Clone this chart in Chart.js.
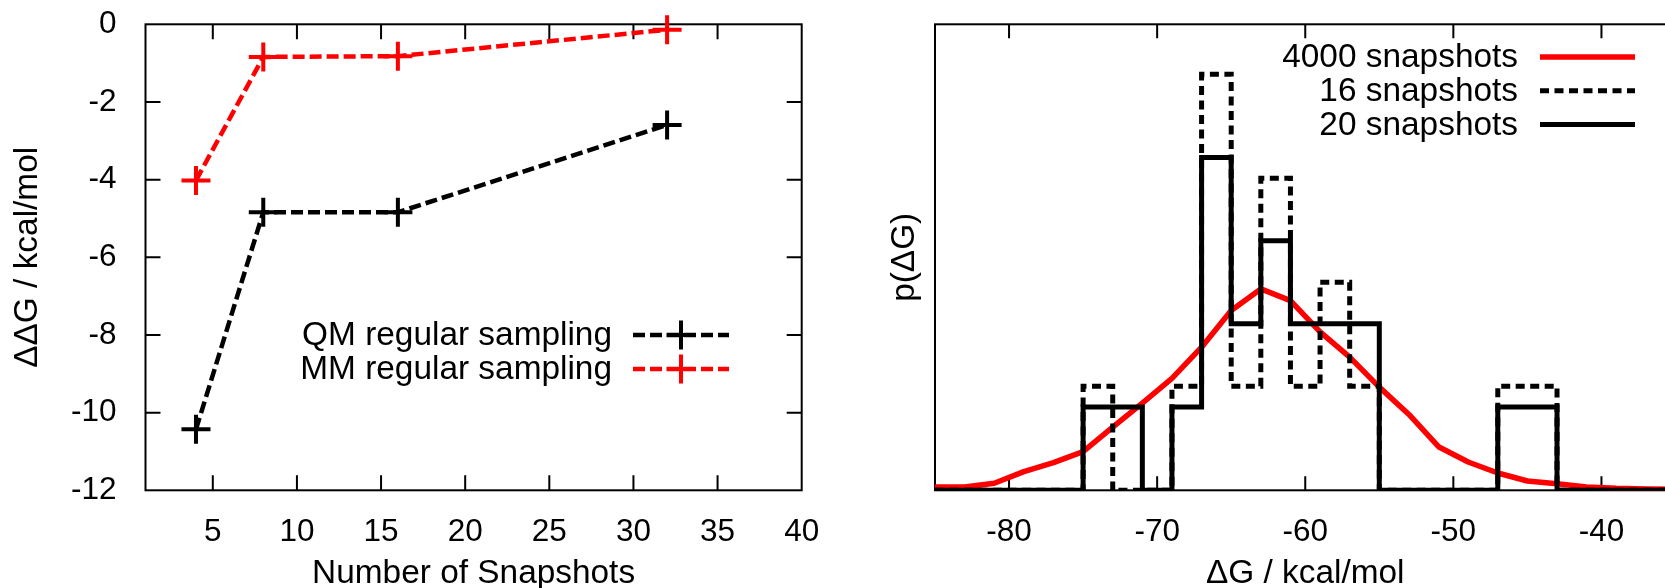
<!DOCTYPE html>
<html><head><meta charset="utf-8">
<script src="https://cdn.jsdelivr.net/npm/chart.js@4.4.1/dist/chart.umd.min.js"></script>
<style>
html,body{margin:0;padding:0;background:#fff;overflow:hidden;width:1665px;height:588px;}
#wrap{position:relative;width:1665px;height:588px;overflow:hidden;background:#fff;}
#c1{position:absolute;left:0;top:0;}
#c2{position:absolute;left:850px;top:0;}
</style></head><body>
<div id="wrap"><canvas id="c1" width="840" height="588"></canvas><canvas id="c2" width="850" height="588"></canvas></div>
<script>
// ---------- Left panel data ----------
const snapshots = [4, 8, 16, 32];
const qmRegular = [-10.43, -4.84, -4.84, -2.59];
const mmRegular = [-4.02, -0.84, -0.82, -0.14];
const leftXTicks = [5, 10, 15, 20, 25, 30, 35, 40];
const leftYTicks = [0, -2, -4, -6, -8, -10, -12];
const leftLabels = ['QM regular sampling', 'MM regular sampling'];

// ---------- Right panel data ----------
const binEdges = [-85, -83, -81, -79, -77, -75, -73, -71, -69, -67, -65, -63, -61, -59, -57, -55, -53, -51, -49, -47, -45, -43, -41, -39, -37, -35];
const counts16 = [0, 0, 0, 0, 0, 1, 0, 0, 1, 4, 1, 3, 1, 2, 1, 0, 0, 0, 0, 1, 1, 0, 0, 0, 0];
const counts20 = [0, 0, 0, 0, 0, 1, 1, 0, 1, 4, 2, 3, 2, 2, 2, 0, 0, 0, 0, 1, 1, 0, 0, 0, 0];
const sample16 = 16;
const sample20 = 20;
const fullX = [-85, -83, -81, -79, -77, -75, -73, -71, -69, -67, -65, -63, -61, -59, -57, -55, -53, -51, -49, -47, -45, -43, -41, -39, -37, -35];
const fullP = [0.0010, 0.0010, 0.0021, 0.0056, 0.0083, 0.0116, 0.0190, 0.0262, 0.0336, 0.0430, 0.0540, 0.0605, 0.0570, 0.0476, 0.0400, 0.0310, 0.0228, 0.0131, 0.0085, 0.0052, 0.0028, 0.0020, 0.0010, 0.0006, 0.0004, 0.0003];
const rightXTicks = [-80, -70, -60, -50, -40];
const rightLabels = ['4000 snapshots', '16 snapshots', '20 snapshots'];

const FAMILY = "'Liberation Sans', Arial, Helvetica, sans-serif";
const TICK_FONT = {family: FAMILY, size: 31.5};
const TEXT_SIZE = 33.4;
Chart.defaults.font.family = FAMILY;
Chart.defaults.color = '#000';

function histPoints(counts, n) {
  const pts = counts.map((c, i) => ({x: binEdges[i], y: c / (n * (binEdges[i + 1] - binEdges[i]))}));
  pts.push({x: binEdges[binEdges.length - 1], y: pts[pts.length - 1].y});
  return pts;
}

function fixX(h) {
  return s => { s.height = h; s.paddingLeft = 0; s.paddingRight = 0; s.paddingTop = 0; s.paddingBottom = 0; };
}
function fixY(w) {
  return s => { s.width = w; s.paddingLeft = 0; s.paddingRight = 0; s.paddingTop = 0; s.paddingBottom = 0; };
}

const framePlugin = {
  id: 'frame',
  beforeDatasetsDraw(chart, args, opts) {
    const {ctx, chartArea: a} = chart;
    ctx.save();
    ctx.strokeStyle = '#000';
    ctx.lineWidth = 2;
    ctx.strokeRect(a.left, a.top, a.right - a.left, a.bottom - a.top);
    const L = opts.tickLen;
    ctx.beginPath();
    const xs = chart.scales.x;
    xs.ticks.forEach(t => {
      const p = xs.getPixelForValue(t.value);
      if (p <= a.left + 1 || p >= a.right - 1) return;
      ctx.moveTo(p, a.bottom); ctx.lineTo(p, a.bottom - L);
      ctx.moveTo(p, a.top); ctx.lineTo(p, a.top + L);
    });
    if (opts.yTicks) {
      const ys = chart.scales.y;
      ys.ticks.forEach(t => {
        const p = ys.getPixelForValue(t.value);
        if (p <= a.top + 1 || p >= a.bottom - 1) return;
        ctx.moveTo(a.left, p); ctx.lineTo(a.left + L, p);
        ctx.moveTo(a.right, p); ctx.lineTo(a.right - L, p);
      });
    }
    ctx.stroke();
    ctx.restore();
  },
  afterDatasetsDraw(chart, args, opts) {
    const ctx = chart.ctx;
    const lg = opts.legend;
    if (!lg) return;
    ctx.save();
    ctx.font = TEXT_SIZE + 'px ' + FAMILY;
    ctx.textAlign = 'right';
    ctx.textBaseline = 'middle';
    ctx.fillStyle = '#000';
    lg.items.forEach((di, i) => {
      const ds = chart.data.datasets[di];
      const y = lg.y + i * lg.gap;
      ctx.fillText(ds.label, lg.textRight, y + 1);
      ctx.beginPath();
      ctx.setLineDash(ds.borderDash || []);
      ctx.lineWidth = ds.borderWidth;
      ctx.strokeStyle = ds.borderColor;
      ctx.lineCap = 'butt';
      ctx.moveTo(lg.x0, y); ctx.lineTo(lg.x1, y);
      ctx.stroke();
      ctx.setLineDash([]);
      if (ds.pointStyle === 'cross') {
        const cx = (lg.x0 + lg.x1) / 2, r = ds.pointRadius;
        ctx.beginPath();
        ctx.lineWidth = ds.pointBorderWidth;
        ctx.moveTo(cx - r, y); ctx.lineTo(cx + r, y);
        ctx.moveTo(cx, y - r); ctx.lineTo(cx, y + r);
        ctx.stroke();
      }
    });
    ctx.restore();
  }
};

// ---------- Left chart ----------
new Chart(document.getElementById('c1'), {
  type: 'line',
  data: {
    datasets: [
      {
        label: leftLabels[0],
        data: snapshots.map((s, i) => ({x: s, y: qmRegular[i]})),
        borderColor: '#000', backgroundColor: '#000',
        borderWidth: 4.5, borderDash: [12, 5],
        pointStyle: 'cross', pointRadius: 14.5, pointBorderWidth: 4,
        pointBorderColor: '#000', fill: false, tension: 0, clip: false
      },
      {
        label: leftLabels[1],
        data: snapshots.map((s, i) => ({x: s, y: mmRegular[i]})),
        borderColor: '#ff0000', backgroundColor: '#ff0000',
        borderWidth: 4.5, borderDash: [12, 5],
        pointStyle: 'cross', pointRadius: 14.5, pointBorderWidth: 4,
        pointBorderColor: '#ff0000', fill: false, tension: 0, clip: false
      }
    ]
  },
  options: {
    responsive: false, animation: false, devicePixelRatio: 1,
    layout: {autoPadding: false, padding: {left: 0, top: 24.3, right: 38.3, bottom: 0}},
    plugins: {
      legend: {display: false}, tooltip: {enabled: false},
      frame: {tickLen: 15, yTicks: true, legend: {items: [0, 1], y: 335, gap: 34, textRight: 612, x0: 633, x1: 729}}
    },
    events: [],
    scales: {
      x: {
        type: 'linear', min: 1, max: 40,
        afterBuildTicks: s => { s.ticks = leftXTicks.map(v => ({value: v})); },
        afterFit: fixX(97.7),
        grid: {display: false}, border: {display: false},
        ticks: {font: TICK_FONT, padding: 15.5, maxRotation: 0, callback: v => String(v)},
        title: {display: true, text: 'Number of Snapshots', font: {family: FAMILY, size: TEXT_SIZE}, padding: {top: 0, bottom: -6}}
      },
      y: {
        type: 'linear', min: -12, max: 0,
        afterBuildTicks: s => { s.ticks = leftYTicks.map(v => ({value: v})); },
        afterFit: fixY(145.5),
        grid: {display: false}, border: {display: false},
        ticks: {font: TICK_FONT, padding: 21, callback: v => String(v)},
        title: {display: true, text: 'ΔΔG / kcal/mol', font: {family: FAMILY, size: TEXT_SIZE}, padding: {top: 8, bottom: 0}}
      }
    }
  },
  plugins: [framePlugin]
});

// ---------- Right chart ----------
new Chart(document.getElementById('c2'), {
  type: 'line',
  data: {
    datasets: [
      {
        label: rightLabels[0],
        data: fullX.map((x, i) => ({x: x, y: fullP[i]})),
        borderColor: '#ff0000', borderWidth: 5.5, pointRadius: 0,
        fill: false, tension: 0, order: 3, borderJoinStyle: 'round'
      },
      {
        label: rightLabels[1],
        data: histPoints(counts16, sample16),
        borderColor: '#000', borderWidth: 5, borderDash: [9, 5.5], pointRadius: 0,
        stepped: true, fill: false, order: 2, borderJoinStyle: 'miter'
      },
      {
        label: rightLabels[2],
        data: histPoints(counts20, sample20),
        borderColor: '#000', borderWidth: 5, pointRadius: 0,
        stepped: true, fill: false, order: 1, borderJoinStyle: 'miter'
      }
    ]
  },
  options: {
    responsive: false, animation: false, devicePixelRatio: 1,
    layout: {autoPadding: false, padding: {left: 0, top: 24.3, right: 24.5, bottom: 0}},
    plugins: {
      legend: {display: false}, tooltip: {enabled: false},
      frame: {tickLen: 14, yTicks: false, legend: {items: [0, 1, 2], y: 57, gap: 33.7, textRight: 668, x0: 690, x1: 785}}
    },
    events: [],
    scales: {
      x: {
        type: 'linear', min: -85, max: -35,
        afterBuildTicks: s => { s.ticks = rightXTicks.map(v => ({value: v})); },
        afterFit: fixX(97.7),
        grid: {display: false}, border: {display: false},
        ticks: {font: TICK_FONT, padding: 15.5, maxRotation: 0, callback: v => String(v)},
        title: {display: true, text: 'ΔG / kcal/mol', font: {family: FAMILY, size: TEXT_SIZE}, padding: {top: 0, bottom: -6}}
      },
      y: {
        type: 'linear', min: 0, max: 0.14,
        afterFit: fixY(85),
        grid: {display: false}, border: {display: false},
        ticks: {display: false},
        title: {display: true, text: 'p(ΔG)', font: {family: FAMILY, size: TEXT_SIZE}, padding: {top: 35, bottom: 0}}
      }
    }
  },
  plugins: [framePlugin]
});
</script>
</body></html>
